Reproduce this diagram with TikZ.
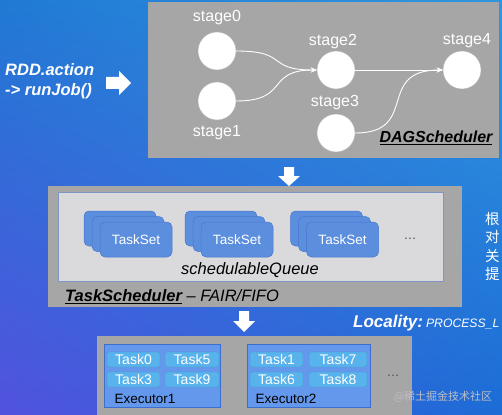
\documentclass[tikz,border=0pt]{standalone}
\usepackage{fontspec}
\setmainfont{Liberation Sans}
\newfontfamily\cjk{Noto Sans CJK SC}
\usetikzlibrary{arrows.meta,shadings}
\definecolor{bgUL}{RGB}{32,122,212}
\definecolor{bgUR}{RGB}{48,150,222}
\definecolor{bgLL}{RGB}{82,82,222}
\definecolor{bgLR}{RGB}{28,108,214}
\definecolor{boxgray}{RGB}{166,166,166}
\definecolor{queuegray}{RGB}{218,218,220}
\definecolor{queueline}{RGB}{130,150,195}
\definecolor{tsfill}{RGB}{92,142,222}
\definecolor{tsline}{RGB}{70,118,205}
\definecolor{exfill}{RGB}{100,152,236}
\definecolor{exline}{RGB}{60,110,205}
\definecolor{taskfill}{RGB}{88,178,236}
\definecolor{wmark}{RGB}{190,190,196}
\tikzset{
  panel/.style={fill=boxgray, draw=none, inner sep=0pt},
  stagenode/.style={circle, fill=white, draw=white!70!black, line width=0.4pt, minimum size=38pt, inner sep=0pt},
  stagelabel/.style={text=white, font=\fontsize{16}{18}\selectfont, inner sep=0pt},
  flow/.style={white, line width=0.9pt, -{Stealth[length=6pt,width=5pt]}},
  tsbox/.style={fill=tsfill, draw=tsline, line width=0.5pt, rounded corners=5pt, minimum width=72pt, minimum height=35pt, inner sep=0pt},
  tstext/.style={text=white, font=\fontsize{13.5}{15}\selectfont},
  exbox/.style={fill=exfill, draw=exline, line width=0.6pt, inner sep=0pt, minimum height=63pt},
  taskbox/.style={fill=taskfill, draw=taskfill!85!black, line width=0.3pt, rounded corners=2pt, minimum height=15pt, inner sep=0pt, text=white, font=\fontsize{14}{15}\selectfont},
  blockarrow/.style={fill=white, draw=none},
}
\begin{document}
\begin{tikzpicture}[x=1pt,y=-1pt]
\useasboundingbox (0,0) rectangle (502,414);
\begin{scope}
\clip (0,0) rectangle (502,414);
\shade[upper left=bgUL, upper right=bgUR, lower left=bgLL, lower right=bgLR] (0,0) rectangle (502,414);

% ---------- DAGScheduler panel
\node[panel, minimum width=351pt, minimum height=156pt] (dag) at (323.5,80) {};
\node[stagenode] (s0) at (217,51) {};
\node[stagenode] (s1) at (217,101) {};
\node[stagenode] (s2) at (336,70) {};
\node[stagenode] (s3) at (336,133) {};
\node[stagenode] (s4) at (462,70) {};
\node[stagelabel] (l0) at (217,18) {stage0};
\node[stagelabel] (l1) at (217,133) {stage1};
\node[stagelabel] (l2) at (333,42) {stage2};
\node[stagelabel] (l3) at (335,103) {stage3};
\node[stagelabel] (l4) at (467,41) {stage4};
\draw[flow] (s0.east) .. controls (290,51) and (265,70) .. (s2.west);
\draw[flow] (s1.east) .. controls (290,101) and (265,70) .. (s2.west);
\draw[flow] (s2.east) -- (s4.west);
\draw[flow] (s3.east) .. controls (420,133) and (375,70) .. (s4.west);
\node[inner sep=0pt, font=\fontsize{16}{18}\selectfont\bfseries\itshape] (dagname) at (436,138) {\underline{DAGScheduler}};

% ---------- left caption and arrow
\node[inner sep=0pt, align=left, anchor=west, text=white, font=\fontsize{16.5}{20}\selectfont\bfseries\itshape] (rdd) at (5,81) {RDD.action\\-> runJob()};
\coordinate (ra) at (106,83);
\fill[blockarrow] (ra) ++(0,-6) -- ++(13,0) -- ++(0,-6) -- ++(12,12) -- ++(-12,12) -- ++(0,-6) -- ++(-13,0) -- cycle;

% ---------- down arrow 1
\coordinate (da1) at (289,186);
\fill[blockarrow] (da1) -- ++(-11,-10) -- ++(6,0) -- ++(0,-9) -- ++(10,0) -- ++(0,9) -- ++(6,0) -- cycle;

% ---------- TaskScheduler panel
\node[panel, minimum width=414pt, minimum height=121pt] (ts) at (255,246.5) {};
\node[fill=queuegray, draw=queueline, line width=0.6pt, inner sep=0pt, minimum width=385pt, minimum height=89pt] (queue) at (250.5,236.5) {};
\foreach \n/\cx in {a/136, b/237, c/342.5} {
  \node[tsbox] (ts\n3) at (\cx-16,228.5) {};
  \node[tsbox] (ts\n2) at (\cx-8,234) {};
  \node[tsbox] (ts\n1) at (\cx,239.5) {};
  \node[tstext] (tst\n) at (ts\n1) {TaskSet};
}
\node[text=black!70, font=\fontsize{13}{15}\selectfont] (qdots) at (410,239) {\dots};
\node[inner sep=0pt, font=\fontsize{16.5}{18}\selectfont\itshape] (qname) at (250,270) {schedulableQueue};
\node[inner sep=0pt, anchor=west, font=\fontsize{16.5}{18}\selectfont] (tsname) at (65,297) {\textbf{\textit{\underline{TaskScheduler}}}\textit{ – FAIR/FIFO}};

% ---------- right side text (as far as it is shown)
\node[inner sep=0pt, anchor=north west, align=left, text=white, font=\fontsize{14.5}{18.5}\selectfont\cjk] (cn) at (485,212) {根\\对\\关\\提};

% ---------- down arrow 2 and locality
\coordinate (da2) at (244,332);
\fill[blockarrow] (da2) -- ++(-11,-11) -- ++(6,0) -- ++(0,-10) -- ++(10,0) -- ++(0,10) -- ++(6,0) -- cycle;
\node[inner sep=0pt, anchor=west, text=white] (loc) at (353,323) {\fontsize{17}{19}\selectfont\bfseries\itshape Locality:\mdseries\fontsize{12.2}{15}\selectfont\hspace{3pt}PROCESS\_L};

% ---------- executors panel
\node[panel, minimum width=315pt, minimum height=80pt] (exec) at (254.5,376) {};
\node[exbox, minimum width=116pt] (e1) at (162,375.5) {};
\node[exbox, minimum width=123pt] (e2) at (308.5,375.5) {};
\node[taskbox, minimum width=53pt] (t0) at (133.5,359.5) {Task0};
\node[taskbox, minimum width=54pt] (t5) at (192,359.5) {Task5};
\node[taskbox, minimum width=53pt] (t3) at (133.5,379.5) {Task3};
\node[taskbox, minimum width=54pt] (t9) at (192,379.5) {Task9};
\node[inner sep=0pt, font=\fontsize{13.5}{15}\selectfont] (e1name) at (145,399) {Executor1};
\node[taskbox, minimum width=53pt] (t1) at (276.5,359.5) {Task1};
\node[taskbox, minimum width=58pt] (t7) at (338,359.5) {Task7};
\node[taskbox, minimum width=53pt] (t6) at (276.5,379.5) {Task6};
\node[taskbox, minimum width=58pt] (t8) at (338,379.5) {Task8};
\node[inner sep=0pt, font=\fontsize{13.5}{15}\selectfont] (e2name) at (286,399) {Executor2};
\node[text=black!70, font=\fontsize{13}{15}\selectfont] (edots) at (393,376) {\dots};
\node[inner sep=0pt, text=wmark, font=\fontsize{11}{13}\selectfont\cjk] (wm) at (443,397) {@稀土掘金技术社区};
\end{scope}
\end{tikzpicture}
\end{document}
